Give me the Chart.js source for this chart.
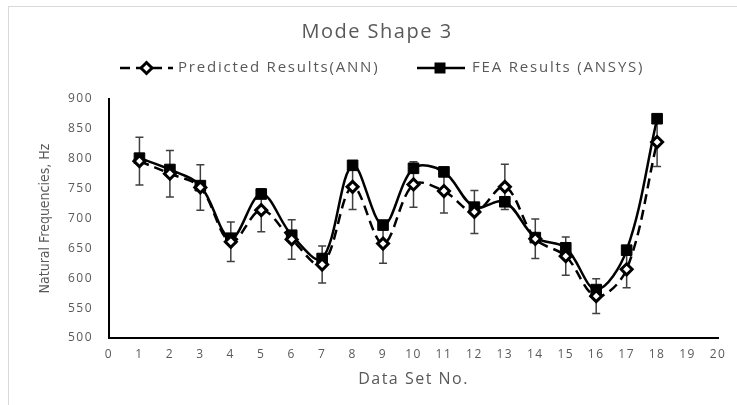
<!DOCTYPE html>
<html>
<head>
<meta charset="utf-8">
<title>Mode Shape 3</title>
<script src="https://cdn.jsdelivr.net/npm/chart.js@4.4.1/dist/chart.umd.min.js"></script>
<style>
    html, body { margin: 0; padding: 0; background: #fff; }
    #wrap { position: relative; width: 737px; height: 405px; }
</style>
</head>
<body>
<div id="wrap"><canvas id="modeChart" width="737" height="405"></canvas></div>
<script>
// Data
const dataSets = [1, 2, 3, 4, 5, 6, 7, 8, 9, 10, 11, 12, 13, 14, 15, 16, 17, 18];
const annValues = [796, 775, 752, 661, 714, 665, 623, 753, 658, 757, 746, 711, 753, 666, 637, 570, 615, 828];
const feaValues = [801, 782, 755, 667, 741, 672, 633, 789, 689, 784, 778, 719, 728, 668, 651, 581, 647, 867];
// error bar half-lengths on the ANN series
const annErrors = [40, 39, 38, 33, 36, 33, 31, 38, 33, 38, 37, 36, 38, 33, 32, 29, 31, 41];

const seriesLabels = ['Predicted Results(ANN)', 'FEA Results (ANSYS)'];
const yAxisTitle = 'Natural Frequencies, Hz';
const xTicks = { min: 0, max: 20, step: 1 };
const yTicks = { min: 500, max: 900, step: 50 };

const textColor = '#595959';
const fontFamily = "'Open Sans', 'Noto Sans', sans-serif";
const narrowFamily = "'Liberation Sans Narrow', 'DejaVu Sans Condensed', 'Roboto', sans-serif";

// Light frame around the chart object, and the wide text spacing of the original
const framePlugin = {
    id: 'frame',
    beforeDraw(chart) {
        const ctx = chart.ctx;
        ctx.fillStyle = '#fff';
        ctx.fillRect(0, 0, chart.width, chart.height);
        ctx.strokeStyle = '#d9d9d9';
        ctx.lineWidth = 1;
        ctx.strokeRect(8.5, 6.5, 900, 600);
        ctx.letterSpacing = '1.5px';
    }
};

// Error bars on the predicted series, placed through the chart scales
const errorBarPlugin = {
    id: 'errorBars',
    beforeDatasetsDraw(chart) {
        const ctx = chart.ctx;
        const xs = chart.scales.x;
        const ys = chart.scales.y;
        ctx.save();
        ctx.strokeStyle = '#404040';
        ctx.lineWidth = 1.5;
        dataSets.forEach((n, i) => {
            const px = xs.getPixelForValue(n);
            const top = ys.getPixelForValue(annValues[i] + annErrors[i]);
            const bot = ys.getPixelForValue(annValues[i] - annErrors[i]);
            ctx.beginPath();
            ctx.moveTo(px, top);
            ctx.lineTo(px, bot);
            ctx.moveTo(px - 4, top);
            ctx.lineTo(px + 4, top);
            ctx.moveTo(px - 4, bot);
            ctx.lineTo(px + 4, bot);
            ctx.stroke();
        });
        ctx.restore();
    }
};

// Legend with line + marker samples, and the narrow y axis title
const legendPlugin = {
    id: 'lineLegend',
    afterDraw(chart) {
        const ctx = chart.ctx;
        const y = 68;
        ctx.save();
        ctx.strokeStyle = '#000';
        ctx.lineWidth = 2.5;

        // predicted: dashed line + open diamond
        ctx.setLineDash([10, 6]);
        ctx.beginPath();
        ctx.moveTo(120, y);
        ctx.lineTo(173, y);
        ctx.stroke();
        ctx.setLineDash([]);
        ctx.fillStyle = '#fff';
        ctx.lineWidth = 3;
        ctx.beginPath();
        ctx.moveTo(146.5 - 5.5, y);
        ctx.lineTo(146.5, y - 5.5);
        ctx.lineTo(146.5 + 5.5, y);
        ctx.lineTo(146.5, y + 5.5);
        ctx.closePath();
        ctx.fill();
        ctx.stroke();

        // FEA: solid line + filled square
        ctx.lineWidth = 2.5;
        ctx.beginPath();
        ctx.moveTo(417, y);
        ctx.lineTo(465, y);
        ctx.stroke();
        ctx.fillStyle = '#000';
        ctx.fillRect(440 - 5.5, y - 5.5, 11, 11);

        ctx.fillStyle = textColor;
        ctx.font = '15px ' + fontFamily;
        ctx.textBaseline = 'middle';
        ctx.letterSpacing = '1.8px';
        ctx.fillText(seriesLabels[0], 178, y);
        ctx.fillText(seriesLabels[1], 472, y);

        // y axis title, centred on the chart area
        const area = chart.chartArea;
        ctx.letterSpacing = '0px';
        ctx.font = '14px ' + narrowFamily;
        ctx.textAlign = 'center';
        ctx.translate(45, (area.top + area.bottom) / 2);
        ctx.rotate(-Math.PI / 2);
        ctx.fillText(yAxisTitle, 0, 0);
        ctx.restore();
    }
};

const ctx = document.getElementById('modeChart');

new Chart(ctx, {
    type: 'line',
    data: {
        datasets: [{
            label: seriesLabels[0],
            data: dataSets.map((n, i) => ({ x: n, y: annValues[i] })),
            borderColor: '#000',
            borderWidth: 2.5,
            borderDash: [10, 6],
            tension: 0.35,
            pointStyle: 'rectRot',
            pointRadius: 5.5,
            pointBorderWidth: 3,
            pointBackgroundColor: '#fff',
            pointBorderColor: '#000',
            fill: false
        }, {
            label: seriesLabels[1],
            data: dataSets.map((n, i) => ({ x: n, y: feaValues[i] })),
            borderColor: '#000',
            borderWidth: 2.5,
            tension: 0.35,
            pointStyle: 'rect',
            pointRadius: 7.5,
            pointBorderWidth: 1,
            pointBackgroundColor: '#000',
            pointBorderColor: '#000',
            fill: false
        }]
    },
    options: {
        responsive: false,
        animation: false,
        devicePixelRatio: 1,
        layout: {
            padding: { left: 36, right: 19, top: 0, bottom: 0 }
        },
        plugins: {
            legend: { display: false },
            tooltip: { enabled: false },
            title: {
                display: true,
                text: 'Mode Shape 3',
                color: textColor,
                font: { family: fontFamily, size: 20, weight: 'normal' },
                padding: { top: 20, bottom: 55 }
            }
        },
        scales: {
            x: {
                type: 'linear',
                min: xTicks.min,
                max: xTicks.max,
                afterFit(scale) { scale.height = 67; },
                grid: { display: false, drawTicks: false },
                border: { display: true, color: '#000', width: 2 },
                ticks: {
                    stepSize: xTicks.step,
                    padding: 9,
                    color: textColor,
                    font: { family: fontFamily, size: 12 }
                },
                title: {
                    display: true,
                    text: 'Data Set No.',
                    color: textColor,
                    font: { family: fontFamily, size: 16 },
                    padding: { top: 0, bottom: 16 }
                }
            },
            y: {
                min: yTicks.min,
                max: yTicks.max,
                afterFit(scale) { scale.width = 73; },
                grid: { display: false, drawTicks: false },
                border: { display: true, color: '#000', width: 2 },
                ticks: {
                    stepSize: yTicks.step,
                    padding: 16,
                    color: textColor,
                    font: { family: fontFamily, size: 12 }
                }
            }
        }
    },
    plugins: [framePlugin, errorBarPlugin, legendPlugin]
});
</script>
</body>
</html>
